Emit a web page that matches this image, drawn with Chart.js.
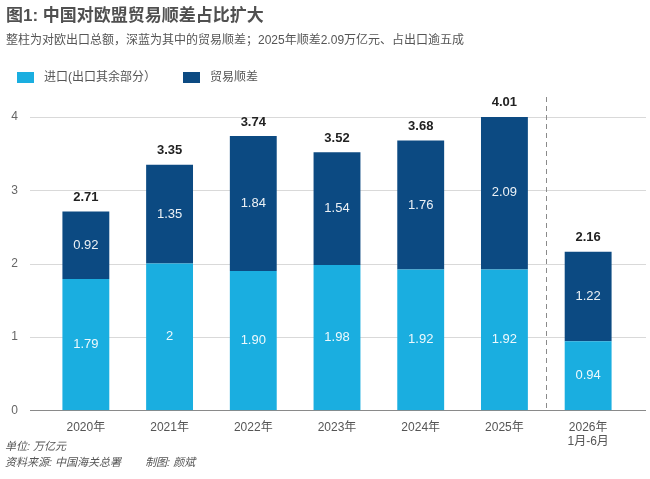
<!DOCTYPE html>
<html><head><meta charset="utf-8">
<script src="https://cdn.jsdelivr.net/npm/chart.js@4"></script>
<style>
html,body{margin:0;padding:0;background:#fff;}
#wrap{position:relative;width:650px;height:479px;}
canvas{position:absolute;left:0;top:0;}
.t{position:absolute;left:6px;white-space:nowrap;font-family:"Liberation Sans","Noto Sans CJK SC",sans-serif;color:#555;line-height:1;}
#title{top:7px;font-size:17px;font-weight:bold;color:#505050;}
#sub{top:34px;font-size:12px;color:#555;}
.foot{font-size:11px;font-style:italic;color:#555;left:5px;}
.lg{position:absolute;top:72px;height:11px;width:17px;}
.lt{position:absolute;top:71px;font-size:12px;color:#555;white-space:nowrap;font-family:"Liberation Sans","Noto Sans CJK SC",sans-serif;line-height:1;}
</style></head><body>
<div id="wrap">
<canvas id="c" width="650" height="479"></canvas>
<div id="title" class="t">图1: 中国对欧盟贸易顺差占比扩大</div>
<div id="sub" class="t">整柱为对欧出口总额，深蓝为其中的贸易顺差；2025年顺差2.09万亿元、占出口逾五成</div>
<div id="legend"></div>
<div class="t foot" style="top:441px">单位: 万亿元</div>
<div class="t foot" style="top:457px">资料来源: 中国海关总署<span style="display:inline-block;width:24px"></span>制图: 颜斌</div>
</div>
<script>
const categories = [["2020年"],["2021年"],["2022年"],["2023年"],["2024年"],["2025年"],["2026年","1月-6月"]];
const seriesNames = ["进口(出口其余部分）", "贸易顺差"];
const importValues = [1.79, 2, 1.90, 1.98, 1.92, 1.92, 0.94];
const surplusValues = [0.92, 1.35, 1.84, 1.54, 1.76, 2.09, 1.22];
const importLabels = ["1.79","2","1.90","1.98","1.92","1.92","0.94"];
const surplusLabels = ["0.92","1.35","1.84","1.54","1.76","2.09","1.22"];
const totalLabels = ["2.71","3.35","3.74","3.52","3.68","4.01","2.16"];
const yTicks = [0,1,2,3,4];

const LIGHT = "#1aaee0";
const DARK = "#0c4a82";
const FONT = '"Liberation Sans","Noto Sans CJK SC",sans-serif';

const decor = {
  id:'decor',
  beforeDatasetsDraw(chart){
    const ctx = chart.ctx, y = chart.scales.y, x = chart.scales.x;
    ctx.save();
    yTicks.forEach(v=>{
      const py = Math.round(y.getPixelForValue(v))+0.5;
      ctx.beginPath();
      ctx.strokeStyle = v===0 ? "#8a8a8a" : "#d9d9d9";
      ctx.lineWidth = 1;
      ctx.moveTo(30, py); ctx.lineTo(646, py); ctx.stroke();
    });
    const sx = Math.round((x.getPixelForValue(5)+x.getPixelForValue(6))/2)+0.5;
    ctx.beginPath();
    ctx.setLineDash([5,4]);
    ctx.strokeStyle="#8a8a8a";
    ctx.moveTo(sx, y.getPixelForValue(4)-20); ctx.lineTo(sx, y.getPixelForValue(0)); ctx.stroke();
    ctx.restore();
  },
  afterDatasetsDraw(chart){
    const ctx = chart.ctx;
    const m0 = chart.getDatasetMeta(0), m1 = chart.getDatasetMeta(1);
    ctx.save();
    ctx.textAlign='center'; ctx.textBaseline='middle';
    ctx.font = '13px '+FONT; ctx.fillStyle='rgba(255,255,255,0.92)';
    m0.data.forEach((b,i)=>{ ctx.fillText(importLabels[i], b.x, (b.y+b.base)/2); });
    m1.data.forEach((b,i)=>{ ctx.fillText(surplusLabels[i], b.x, (b.y+b.base)/2); });
    ctx.font = 'bold 13px '+FONT; ctx.fillStyle='#222';
    m1.data.forEach((b,i)=>{ ctx.fillText(totalLabels[i], b.x, b.y-14); });
    ctx.restore();
  }
};

const chart = new Chart(document.getElementById('c'),{
  type:'bar',
  data:{
    labels:categories,
    datasets:[
      {label:seriesNames[0], data:importValues, backgroundColor:LIGHT, barPercentage:0.56, categoryPercentage:1},
      {label:seriesNames[1], data:surplusValues, backgroundColor:DARK, barPercentage:0.56, categoryPercentage:1}
    ]
  },
  options:{
    responsive:false, animation:false,
    layout:{padding:{left:8,right:20,top:117,bottom:28}},
    plugins:{ legend:{display:false}, tooltip:{enabled:false} },
    scales:{
      x:{stacked:true, grid:{display:false}, border:{display:false},
        ticks:{color:'#555',font:{size:12,family:FONT},padding:2,maxRotation:0}},
      y:{stacked:true, min:0, max:4, grid:{display:false}, border:{display:false},
        afterBuildTicks(s){ s.ticks = yTicks.map(v=>({value:v})); },
        afterFit(s){ s.width = 36; },
        ticks:{color:'#666',font:{size:12,family:FONT},padding:18}}
    }
  },
  plugins:[decor]
});

// HTML legend built from the chart's datasets
const lgX = [[17,44],[183,210]];
const lg = document.getElementById('legend');
chart.data.datasets.forEach((ds,i)=>{
  const b = document.createElement('div'); b.className='lg';
  b.style.left = lgX[i][0]+'px'; b.style.background = ds.backgroundColor; lg.appendChild(b);
  const t = document.createElement('div'); t.className='lt';
  t.style.left = lgX[i][1]+'px'; t.textContent = ds.label; lg.appendChild(t);
});
</script>
</body></html>
